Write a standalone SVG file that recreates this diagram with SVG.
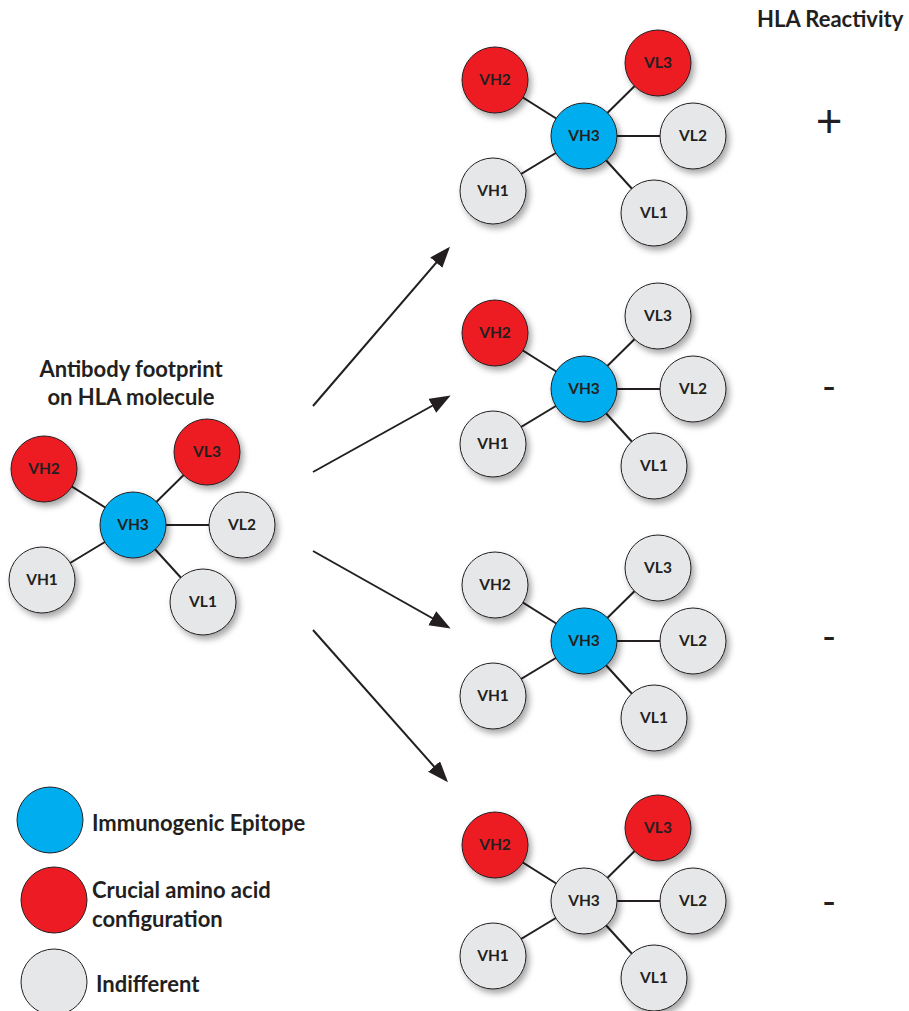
<svg xmlns="http://www.w3.org/2000/svg" width="909" height="1011" viewBox="0 0 909 1011">
<defs>
<filter id="sh" x="-30%" y="-30%" width="170%" height="170%">
<feDropShadow dx="3" dy="4" stdDeviation="3" flood-color="#000" flood-opacity="0.35"/>
</filter>
<marker id="ah" markerUnits="userSpaceOnUse" markerWidth="22" markerHeight="18" refX="18" refY="8" orient="auto">
<path d="M0,0 L21,8 L0,16 z" fill="#231f20"/>
</marker>
</defs>
<style>
text{font-family:Lato,"Liberation Sans",sans-serif;font-weight:bold;fill:#231f20}
.n circle{stroke:#231f20;stroke-width:1}
.r{fill:#ed1c24}
.b{fill:#00aeef}
.g{fill:#e6e7e8}
.lbl{font-size:15.5px;text-anchor:middle}
.e line{stroke:#231f20;stroke-width:2}
.arr{stroke:#231f20;stroke-width:2;fill:none;marker-end:url(#ah)}
.t{font-size:22px}
.sg{font-size:38px;font-weight:normal;text-anchor:middle}
.pl{font-size:46px}
</style>

<text class="t" x="757" y="27">HLA Reactivity</text>
<text class="t" x="131" y="377" text-anchor="middle">Antibody footprint</text>
<text class="t" x="131" y="405" text-anchor="middle">on HLA molecule</text>

<g id="connectors">
<line class="arr" x1="313" y1="406" x2="448" y2="249"/>
<line class="arr" x1="313" y1="472" x2="448" y2="397"/>
<line class="arr" x1="313" y1="551" x2="448" y2="627"/>
<line class="arr" x1="313" y1="630" x2="446" y2="780"/>
</g>

<!-- left cluster -->
<g id="cluster0" transform="translate(133,525)">
<g class="e"><line x1="0" y1="0" x2="-89" y2="-56"/><line x1="0" y1="0" x2="74" y2="-73"/><line x1="0" y1="0" x2="109" y2="0"/><line x1="0" y1="0" x2="-91" y2="55"/><line x1="0" y1="0" x2="70" y2="77"/></g>
<g id="c0-VH2" class="n"><circle class="r" cx="-89" cy="-56" r="33" filter="url(#sh)"/><text class="lbl" x="-89" y="-51">VH2</text></g>
<g id="c0-VL3" class="n"><circle class="r" cx="74" cy="-73" r="33" filter="url(#sh)"/><text class="lbl" x="74" y="-68">VL3</text></g>
<g id="c0-VL2" class="n"><circle class="g" cx="109" cy="0" r="33" filter="url(#sh)"/><text class="lbl" x="109" y="5">VL2</text></g>
<g id="c0-VH1" class="n"><circle class="g" cx="-91" cy="55" r="33" filter="url(#sh)"/><text class="lbl" x="-91" y="60">VH1</text></g>
<g id="c0-VL1" class="n"><circle class="g" cx="70" cy="77" r="33" filter="url(#sh)"/><text class="lbl" x="70" y="82">VL1</text></g>
<g id="c0-VH3" class="n"><circle class="b" cx="0" cy="0" r="33" filter="url(#sh)"/><text class="lbl" x="0" y="5">VH3</text></g>
</g>

<!-- right cluster 1 -->
<g id="cluster1" transform="translate(584,136)">
<g class="e"><line x1="0" y1="0" x2="-89" y2="-56"/><line x1="0" y1="0" x2="74" y2="-73"/><line x1="0" y1="0" x2="109" y2="0"/><line x1="0" y1="0" x2="-91" y2="55"/><line x1="0" y1="0" x2="70" y2="77"/></g>
<g id="c1-VH2" class="n"><circle class="r" cx="-89" cy="-56" r="33" filter="url(#sh)"/><text class="lbl" x="-89" y="-51">VH2</text></g>
<g id="c1-VL3" class="n"><circle class="r" cx="74" cy="-73" r="33" filter="url(#sh)"/><text class="lbl" x="74" y="-68">VL3</text></g>
<g id="c1-VL2" class="n"><circle class="g" cx="109" cy="0" r="33" filter="url(#sh)"/><text class="lbl" x="109" y="5">VL2</text></g>
<g id="c1-VH1" class="n"><circle class="g" cx="-91" cy="55" r="33" filter="url(#sh)"/><text class="lbl" x="-91" y="60">VH1</text></g>
<g id="c1-VL1" class="n"><circle class="g" cx="70" cy="77" r="33" filter="url(#sh)"/><text class="lbl" x="70" y="82">VL1</text></g>
<g id="c1-VH3" class="n"><circle class="b" cx="0" cy="0" r="33" filter="url(#sh)"/><text class="lbl" x="0" y="5">VH3</text></g>
</g>

<!-- right cluster 2 -->
<g id="cluster2" transform="translate(584,389)">
<g class="e"><line x1="0" y1="0" x2="-89" y2="-56"/><line x1="0" y1="0" x2="74" y2="-73"/><line x1="0" y1="0" x2="109" y2="0"/><line x1="0" y1="0" x2="-91" y2="55"/><line x1="0" y1="0" x2="70" y2="77"/></g>
<g id="c2-VH2" class="n"><circle class="r" cx="-89" cy="-56" r="33" filter="url(#sh)"/><text class="lbl" x="-89" y="-51">VH2</text></g>
<g id="c2-VL3" class="n"><circle class="g" cx="74" cy="-73" r="33" filter="url(#sh)"/><text class="lbl" x="74" y="-68">VL3</text></g>
<g id="c2-VL2" class="n"><circle class="g" cx="109" cy="0" r="33" filter="url(#sh)"/><text class="lbl" x="109" y="5">VL2</text></g>
<g id="c2-VH1" class="n"><circle class="g" cx="-91" cy="55" r="33" filter="url(#sh)"/><text class="lbl" x="-91" y="60">VH1</text></g>
<g id="c2-VL1" class="n"><circle class="g" cx="70" cy="77" r="33" filter="url(#sh)"/><text class="lbl" x="70" y="82">VL1</text></g>
<g id="c2-VH3" class="n"><circle class="b" cx="0" cy="0" r="33" filter="url(#sh)"/><text class="lbl" x="0" y="5">VH3</text></g>
</g>

<!-- right cluster 3 -->
<g id="cluster3" transform="translate(584,641)">
<g class="e"><line x1="0" y1="0" x2="-89" y2="-56"/><line x1="0" y1="0" x2="74" y2="-73"/><line x1="0" y1="0" x2="109" y2="0"/><line x1="0" y1="0" x2="-91" y2="55"/><line x1="0" y1="0" x2="70" y2="77"/></g>
<g id="c3-VH2" class="n"><circle class="g" cx="-89" cy="-56" r="33" filter="url(#sh)"/><text class="lbl" x="-89" y="-51">VH2</text></g>
<g id="c3-VL3" class="n"><circle class="g" cx="74" cy="-73" r="33" filter="url(#sh)"/><text class="lbl" x="74" y="-68">VL3</text></g>
<g id="c3-VL2" class="n"><circle class="g" cx="109" cy="0" r="33" filter="url(#sh)"/><text class="lbl" x="109" y="5">VL2</text></g>
<g id="c3-VH1" class="n"><circle class="g" cx="-91" cy="55" r="33" filter="url(#sh)"/><text class="lbl" x="-91" y="60">VH1</text></g>
<g id="c3-VL1" class="n"><circle class="g" cx="70" cy="77" r="33" filter="url(#sh)"/><text class="lbl" x="70" y="82">VL1</text></g>
<g id="c3-VH3" class="n"><circle class="b" cx="0" cy="0" r="33" filter="url(#sh)"/><text class="lbl" x="0" y="5">VH3</text></g>
</g>

<!-- right cluster 4 -->
<g id="cluster4" transform="translate(584,901)">
<g class="e"><line x1="0" y1="0" x2="-89" y2="-56"/><line x1="0" y1="0" x2="74" y2="-73"/><line x1="0" y1="0" x2="109" y2="0"/><line x1="0" y1="0" x2="-91" y2="55"/><line x1="0" y1="0" x2="70" y2="77"/></g>
<g id="c4-VH2" class="n"><circle class="r" cx="-89" cy="-56" r="33" filter="url(#sh)"/><text class="lbl" x="-89" y="-51">VH2</text></g>
<g id="c4-VL3" class="n"><circle class="r" cx="74" cy="-73" r="33" filter="url(#sh)"/><text class="lbl" x="74" y="-68">VL3</text></g>
<g id="c4-VL2" class="n"><circle class="g" cx="109" cy="0" r="33" filter="url(#sh)"/><text class="lbl" x="109" y="5">VL2</text></g>
<g id="c4-VH1" class="n"><circle class="g" cx="-91" cy="55" r="33" filter="url(#sh)"/><text class="lbl" x="-91" y="60">VH1</text></g>
<g id="c4-VL1" class="n"><circle class="g" cx="70" cy="77" r="33" filter="url(#sh)"/><text class="lbl" x="70" y="82">VL1</text></g>
<g id="c4-VH3" class="n"><circle class="g" cx="0" cy="0" r="33" filter="url(#sh)"/><text class="lbl" x="0" y="5">VH3</text></g>
</g>

<!-- reactivity signs -->
<text class="sg pl" x="829" y="137">+</text>
<text class="sg" x="829" y="400">-</text>
<text class="sg" x="829" y="650">-</text>
<text class="sg" x="829" y="915">-</text>

<!-- legend -->
<g id="legend-epitope" class="n"><circle class="b" cx="50" cy="820" r="33"/><text class="t" x="92" y="831">Immunogenic Epitope</text></g>
<g id="legend-crucial" class="n"><circle class="r" cx="54" cy="900" r="33"/><text class="t" x="92" y="898">Crucial amino acid</text><text class="t" x="92" y="927">configuration</text></g>
<g id="legend-indifferent" class="n"><circle class="g" cx="54" cy="982" r="33"/><text class="t" x="96" y="992">Indifferent</text></g>
</svg>
